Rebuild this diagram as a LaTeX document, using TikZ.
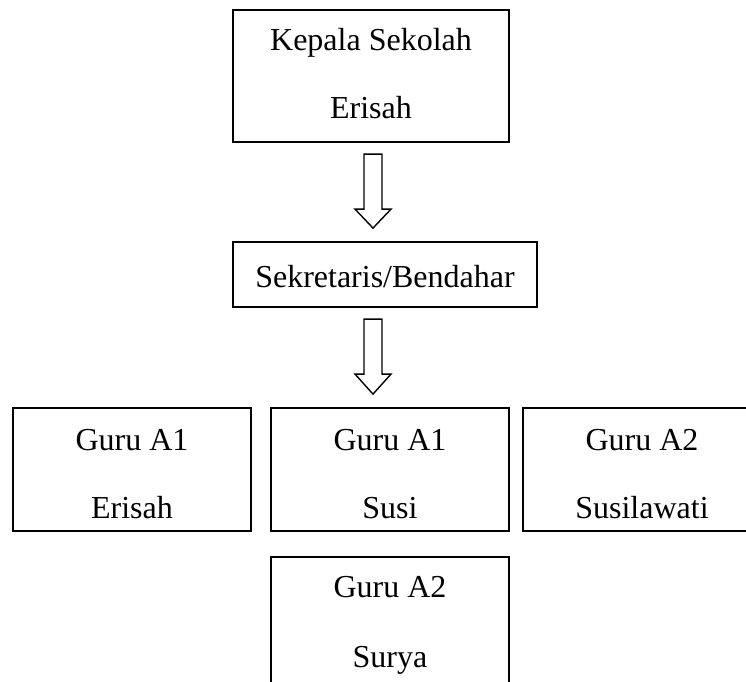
\documentclass[tikz,border=0pt]{standalone}
\usepackage{fontspec}
\setmainfont{Liberation Serif}
\usetikzlibrary{calc}
\begin{document}
\begin{tikzpicture}[x=1pt,y=-1pt,
  box/.style={draw=black,line width=2.2pt,rectangle,inner sep=0pt,minimum width=238pt,minimum height=123pt},
  txt/.style={anchor=base,inner sep=0pt,font=\fontsize{32}{38}\selectfont},
  blockarrow/.style={draw=black,line width=1.4pt,fill=white,line join=miter}]
\useasboundingbox (0,0) rectangle (746,681);

% boxes
\node[box,minimum width=276pt,minimum height=132pt] (kepala) at (371,76) {};
\node[box,minimum width=304pt,minimum height=65pt] (sekretaris) at (385,274.5) {};
\node[box] (guruA) at (132,469.5) {};
\node[box] (guruB) at (390,469.5) {};
\node[box] (guruC) at (642,469.5) {};
\node[box,minimum height=160pt] (guruD) at (390,637) {};

% texts
\node[txt] (t1) at (371,50) {Kepala Sekolah};
\node[txt] (t2) at (371,118) {Erisah};
\node[txt] (t3) at (385,287) {Sekretaris/Bendahar};
\node[txt] (t4) at (132,450) {Guru A1};
\node[txt] (t5) at (132,518) {Erisah};
\node[txt] (t6) at (390,450) {Guru A1};
\node[txt] (t7) at (390,518) {Susi};
\node[txt] (t8) at (642,450) {Guru A2};
\node[txt] (t9) at (642,518) {Susilawati};
\node[txt] (t10) at (390,597) {Guru A2};
\node[txt] (t11) at (390,667) {Surya};

% hollow block arrows
\draw[blockarrow]
  ($(kepala.south)+(-7,11)$) -- ($(kepala.south)+(11,11)$) -- ($(kepala.south)+(11,66)$)
  -- ($(kepala.south)+(20,66)$) -- ($(kepala.south)+(2,85)$) -- ($(kepala.south)+(-16,66)$)
  -- ($(kepala.south)+(-7,66)$) -- cycle;
\draw[blockarrow]
  ($(sekretaris.south)+(-21,11)$) -- ($(sekretaris.south)+(-3,11)$) -- ($(sekretaris.south)+(-3,66)$)
  -- ($(sekretaris.south)+(6,66)$) -- ($(sekretaris.south)+(-12,86)$) -- ($(sekretaris.south)+(-30,66)$)
  -- ($(sekretaris.south)+(-21,66)$) -- cycle;
\end{tikzpicture}
\end{document}
